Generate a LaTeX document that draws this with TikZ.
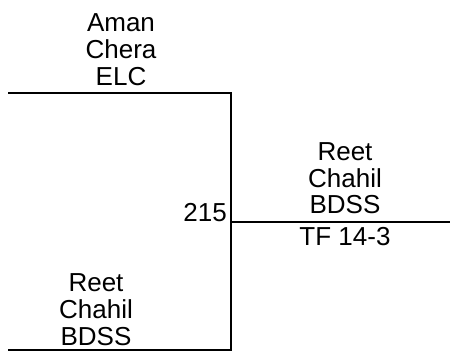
\documentclass[tikz,border=0pt]{standalone}
\usepackage{fontspec}
\setmainfont{Liberation Sans}
\begin{document}
\begin{tikzpicture}[x=1pt,y=1pt,
  bline/.style={line width=2pt},
  lbl/.style={font=\fontsize{26}{27}\selectfont, align=center, inner sep=0pt, anchor=base}]
\useasboundingbox (0,0) rectangle (450,354);
\coordinate (tl) at (8,261);
\coordinate (tr) at (231,261);
\coordinate (bl) at (8,4);
\coordinate (br) at (231,4);
\coordinate (m) at (231,132);
\coordinate (mr) at (450,132);
\draw[bline] (tl) -- (tr) -- (br) -- (bl);
\draw[bline] (m) -- (mr);
\node[lbl] (top) at (121,268) {Aman\\Chera\\ELC};
\node[lbl] (win) at (345,140) {Reet\\Chahil\\BDSS};
\node[lbl] (score) at (345,109) {TF 14-3};
\node[lbl, anchor=base east] (num) at (227,133) {215};
\node[lbl] (bot) at (96,9) {Reet\\Chahil\\BDSS};
\end{tikzpicture}
\end{document}
